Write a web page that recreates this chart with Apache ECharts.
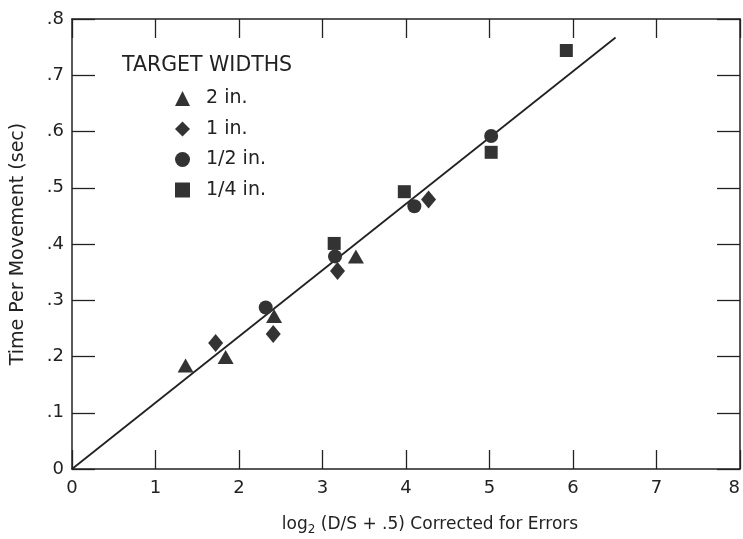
<!DOCTYPE html>
<html><head><meta charset="utf-8">
<script src="https://cdn.jsdelivr.net/npm/echarts@6/dist/echarts.min.js"></script>
<style>html,body{margin:0;padding:0;background:#fff}#c{width:743px;height:539px}</style>
</head><body><div id="c"></div>
<script>
// Data
const tri2in   = [[1.36,0.184],[1.84,0.199],[2.42,0.272],[3.40,0.378]];
const dia1in   = [[1.72,0.224],[2.41,0.240],[3.18,0.352],[4.27,0.479]];
const circHalf = [[2.32,0.287],[3.15,0.378],[4.10,0.467],[5.02,0.592]];
const sqQuarter= [[3.14,0.401],[3.98,0.493],[5.02,0.563],[5.92,0.744]];
const fitLine  = [[0,0],[6.51,0.767]];
const seriesNames = ['2 in.','1 in.','1/2 in.','1/4 in.'];
const xTickLabels = ['0','1','2','3','4','5','6','7','8'];
const yTickLabels = ['0','.1','.2','.3','.4','.5','.6','.7','.8'];

const ink = '#222';
const mark = '#333';
const font = 'DejaVu Sans, Verdana, sans-serif';
const chart = echarts.init(document.getElementById('c'));
const xBase = {
  type:'value', min:0, max:8, interval:1,
  axisLine:{show:true, onZero:false, lineStyle:{color:ink, width:1.5}},
  axisTick:{show:true, inside:true, length:19, lineStyle:{color:ink, width:1.3}},
  splitLine:{show:false}
};
const yBase = {
  type:'value', min:0, max:0.8, interval:0.1,
  axisLine:{show:true, onZero:false, lineStyle:{color:ink, width:1.5}},
  axisTick:{show:true, inside:true, length:23, lineStyle:{color:ink, width:1.3}},
  splitLine:{show:false}
};
const mStyle = {color:mark, opacity:1};
chart.setOption({
  animation:false,
  backgroundColor:'#fff',
  grid:{left:72, right:3, top:19, bottom:70, containLabel:false, outerBoundsMode:'none'},
  xAxis:[
    Object.assign({}, xBase, {position:'bottom',
      axisLabel:{color:ink, fontSize:18, fontFamily:font, margin:10, alignMaxLabel:'right',
        formatter:(v)=>xTickLabels[Math.round(v)]},
      name:'{a|log}{s|2}{a| (D/S + .5) Corrected for Errors}', nameLocation:'middle', nameGap:45,
      nameTextStyle:{padding:[0,0,0,48], rich:{a:{fontSize:17, color:ink, fontFamily:font}, s:{fontSize:12, color:ink, fontFamily:font, padding:[10,0,0,0]}}}
    }),
    Object.assign({}, xBase, {position:'top', axisLabel:{show:false}})
  ],
  yAxis:[
    Object.assign({}, yBase, {position:'left',
      axisLabel:{color:ink, fontSize:18, fontFamily:font, margin:8,
        formatter:(v)=>yTickLabels[Math.round(v*10)]},
      name:'Time Per Movement (sec)', nameLocation:'middle', nameGap:44,
      nameTextStyle:{fontSize:19, color:ink, fontFamily:font}
    }),
    Object.assign({}, yBase, {position:'right', axisLabel:{show:false}})
  ],
  graphic:[{type:'text', left:122, top:55, style:{text:'TARGET WIDTHS', fontSize:20.5, fontFamily:font, fill:ink}}],
  legend:{
    data:seriesNames, orient:'vertical', left:170, top:84, itemGap:11.5,
    itemWidth:15, itemHeight:15,
    itemStyle:{opacity:1},
    textStyle:{fontSize:19, color:ink, fontFamily:font, lineHeight:17, padding:[0,0,0,11]}
  },
  series:[
    {name:seriesNames[0], type:'scatter', symbol:'triangle', symbolSize:[16,14], data:tri2in, itemStyle:mStyle},
    {name:seriesNames[1], type:'scatter', symbol:'diamond', symbolSize:[15,18], data:dia1in, itemStyle:mStyle},
    {name:seriesNames[2], type:'scatter', symbol:'circle', symbolSize:14, data:circHalf, itemStyle:mStyle},
    {name:seriesNames[3], type:'scatter', symbol:'rect', symbolSize:13, data:sqQuarter, itemStyle:mStyle},
    {type:'line', data:fitLine, symbol:'none', lineStyle:{color:ink, width:1.8}, z:1, silent:true}
  ]
});
</script></body></html>
